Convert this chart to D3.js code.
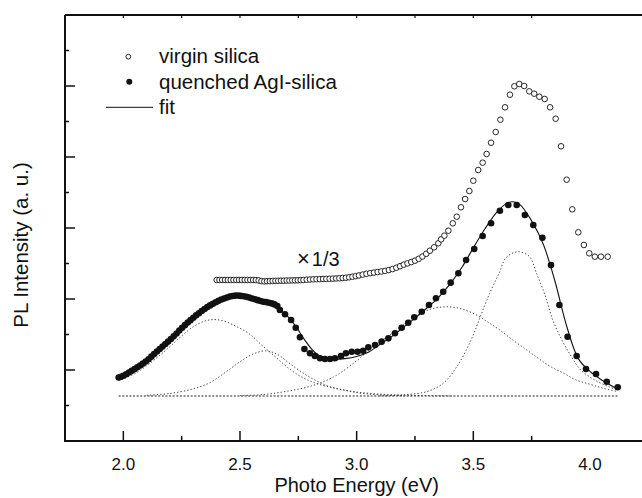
<!DOCTYPE html>
<html><head><meta charset="utf-8">
<script src="https://cdn.jsdelivr.net/npm/d3@7"></script>
<style>body{margin:0;background:#fff}svg{display:block}text{font-family:"Liberation Sans",Arial,sans-serif;fill:#111}</style>
</head><body>
<script>
// ---- data ----
const xTicksMajor = [2.0, 2.5, 3.0, 3.5, 4.0];
const xTickLabels = ["2.0", "2.5", "3.0", "3.5", "4.0"];
const legendLabels = ["virgin silica", "quenched AgI-silica", "fit"];
const scaleNote = ["\u00d7", "1/3"];

// virgin silica (open circles), shown x1/3
const virginX = [2.400,2.412,2.424,2.436,2.448,2.460,2.472,2.484,2.496,2.508,2.520,2.532,2.544,2.556,2.568,2.580,2.592,2.604,2.616,2.628,2.640,2.652,2.664,2.676,2.688,2.700,2.712,2.724,2.736,2.748,2.760,2.772,2.786,2.800,2.814,2.828,2.842,2.856,2.870,2.884,2.898,2.912,2.926,2.940,2.954,2.968,2.982,2.996,3.010,3.026,3.042,3.058,3.074,3.090,3.106,3.122,3.138,3.154,3.170,3.186,3.202,3.218,3.234,3.250,3.266,3.282,3.298,3.314,3.332,3.350,3.362,3.376,3.393,3.412,3.429,3.447,3.465,3.483,3.500,3.521,3.540,3.557,3.576,3.596,3.616,3.636,3.657,3.676,3.697,3.718,3.740,3.761,3.783,3.806,3.829,3.853,3.876,3.900,3.924,3.950,3.974,3.997,4.021,4.047,4.076];
const virginY = [2.268,2.268,2.268,2.268,2.268,2.268,2.268,2.268,2.268,2.268,2.268,2.268,2.268,2.268,2.266,2.262,2.252,2.248,2.250,2.252,2.254,2.256,2.256,2.258,2.258,2.260,2.260,2.262,2.262,2.264,2.266,2.268,2.272,2.275,2.277,2.279,2.280,2.282,2.283,2.285,2.287,2.289,2.292,2.296,2.300,2.306,2.314,2.322,2.332,2.344,2.355,2.364,2.372,2.380,2.388,2.396,2.408,2.422,2.440,2.462,2.484,2.502,2.520,2.540,2.566,2.598,2.636,2.680,2.728,2.785,2.840,2.892,2.962,3.066,3.159,3.292,3.408,3.521,3.666,3.817,3.920,4.042,4.201,4.352,4.525,4.700,4.877,4.996,5.028,5.000,4.925,4.892,4.849,4.817,4.700,4.539,4.151,3.680,3.263,2.939,2.761,2.644,2.596,2.596,2.596];

// quenched AgI-silica (filled circles)
const quenchedX = [1.980,1.990,2.000,2.012,2.024,2.036,2.048,2.060,2.072,2.084,2.096,2.108,2.120,2.132,2.144,2.156,2.168,2.180,2.192,2.204,2.216,2.228,2.240,2.252,2.264,2.276,2.288,2.300,2.312,2.324,2.336,2.348,2.360,2.372,2.384,2.396,2.408,2.420,2.432,2.444,2.456,2.468,2.480,2.492,2.504,2.516,2.528,2.540,2.552,2.564,2.576,2.588,2.600,2.612,2.624,2.636,2.648,2.660,2.671,2.693,2.719,2.739,2.757,2.776,2.800,2.821,2.843,2.864,2.886,2.907,2.933,2.954,2.979,3.004,3.028,3.050,3.079,3.107,3.136,3.164,3.193,3.221,3.247,3.279,3.310,3.340,3.371,3.403,3.436,3.469,3.504,3.540,3.576,3.614,3.650,3.686,3.721,3.757,3.796,3.833,3.869,3.904,3.943,3.983,4.026,4.072,4.119];
const quenchedY = [0.895,0.905,0.918,0.940,0.965,0.988,1.012,1.038,1.064,1.090,1.120,1.152,1.188,1.224,1.260,1.296,1.332,1.366,1.400,1.436,1.474,1.514,1.556,1.596,1.632,1.668,1.702,1.736,1.770,1.800,1.830,1.858,1.886,1.910,1.932,1.954,1.974,1.992,2.008,2.022,2.034,2.042,2.048,2.048,2.044,2.038,2.030,2.020,2.008,1.996,1.984,1.972,1.962,1.956,1.948,1.938,1.924,1.900,1.845,1.785,1.704,1.596,1.461,1.296,1.235,1.197,1.165,1.155,1.155,1.165,1.197,1.235,1.258,1.258,1.272,1.320,1.352,1.399,1.446,1.517,1.596,1.666,1.742,1.821,1.915,2.010,2.103,2.230,2.362,2.549,2.704,2.887,3.066,3.244,3.324,3.324,3.183,3.042,2.863,2.479,1.915,1.469,1.197,1.014,0.944,0.835,0.756];

// fit (solid line)
const fitX = [1.98,2.05,2.10,2.15,2.20,2.25,2.30,2.35,2.40,2.45,2.50,2.55,2.60,2.65,2.70,2.74,2.78,2.82,2.86,2.90,2.95,3.00,3.05,3.10,3.15,3.20,3.25,3.30,3.35,3.40,3.45,3.50,3.55,3.60,3.64,3.67,3.70,3.75,3.80,3.85,3.90,3.95,4.00,4.05,4.12];
const fitY = [0.89,1.01,1.12,1.27,1.42,1.59,1.74,1.87,1.96,2.02,2.04,2.02,1.97,1.90,1.77,1.61,1.41,1.25,1.17,1.15,1.16,1.19,1.25,1.36,1.47,1.60,1.73,1.87,2.02,2.21,2.44,2.72,2.99,3.22,3.34,3.37,3.33,3.10,2.77,2.25,1.62,1.16,0.98,0.86,0.73];

// fitted components (dotted) and baseline
const baseX = [1.98, 4.12];
const baseY = [0.634, 0.634];
const comp1X = [1.98,2.05,2.10,2.15,2.20,2.25,2.30,2.35,2.39,2.43,2.48,2.54,2.59,2.65,2.71,2.76,2.82,2.91,3.00,3.10,3.20,3.30,3.40];
const comp1Y = [0.85,0.95,1.06,1.19,1.33,1.48,1.61,1.69,1.71,1.69,1.62,1.51,1.36,1.19,1.02,0.91,0.82,0.74,0.69,0.66,0.645,0.64,0.635];
const comp2X = [2.10,2.20,2.30,2.37,2.43,2.48,2.52,2.56,2.61,2.66,2.71,2.76,2.82,2.88,2.95,3.02,3.10,3.20];
const comp2Y = [0.645,0.67,0.735,0.82,0.95,1.07,1.16,1.23,1.27,1.22,1.10,0.98,0.86,0.77,0.715,0.672,0.65,0.638];
const comp3X = [2.50,2.60,2.70,2.80,2.90,3.00,3.07,3.14,3.20,3.26,3.32,3.39,3.45,3.51,3.56,3.61,3.67,3.73,3.78,3.83,3.89,3.94,4.00,4.06,4.12];
const comp3Y = [0.64,0.655,0.70,0.77,0.90,1.13,1.33,1.49,1.64,1.77,1.86,1.89,1.86,1.78,1.68,1.57,1.42,1.28,1.16,1.05,0.95,0.86,0.80,0.74,0.695];
const comp4X = [3.10,3.20,3.30,3.37,3.43,3.49,3.53,3.57,3.61,3.64,3.69,3.74,3.77,3.81,3.84,3.88,3.92,3.96,4.02,4.08,4.12];
const comp4Y = [0.636,0.65,0.695,0.81,1.05,1.42,1.75,2.08,2.36,2.58,2.665,2.60,2.37,2.03,1.71,1.42,1.19,1.00,0.86,0.765,0.72];

// ---- drawing ----
const W = 642, H = 498;
const svg = d3.select("body").append("svg").attr("width", W).attr("height", H);
const x = d3.scaleLinear().domain([1.75, 4.25]).range([65, 648.3]);
const y = d3.scaleLinear().domain([0, 6]).range([441, 15]);
const zip = (a, b) => a.map((v, i) => [v, b[i]]);

const line = d3.line().x(d => x(d[0])).y(d => y(d[1])).curve(d3.curveCatmullRom.alpha(0.5));

// components
[[comp1X, comp1Y], [comp2X, comp2Y], [comp3X, comp3Y], [comp4X, comp4Y]].forEach(([cx, cy]) => {
  svg.append("path").attr("d", line(zip(cx, cy))).attr("fill", "none")
    .attr("stroke", "#444").attr("stroke-width", 1).attr("stroke-dasharray", "1.3 2.1");
});
svg.append("path").attr("d", d3.line().x(d => x(d[0])).y(d => y(d[1]))(zip(baseX, baseY)))
  .attr("fill", "none").attr("stroke", "#222").attr("stroke-width", 1.2).attr("stroke-dasharray", "2 1.6");

// fit
svg.append("path").attr("d", line(zip(fitX, fitY))).attr("fill", "none")
  .attr("stroke", "#111").attr("stroke-width", 1.1);

// quenched filled circles
svg.append("g").selectAll("circle").data(zip(quenchedX, quenchedY)).join("circle")
  .attr("cx", d => x(d[0])).attr("cy", d => y(d[1])).attr("r", 3.3).attr("fill", "#111");

// virgin open circles
svg.append("g").selectAll("circle").data(zip(virginX, virginY)).join("circle")
  .attr("cx", d => x(d[0])).attr("cy", d => y(d[1])).attr("r", 2.8)
  .attr("fill", "#fff").attr("stroke", "#111").attr("stroke-width", 0.9);

// frame & ticks
const ax = svg.append("g").attr("stroke", "#111").attr("fill", "none");
ax.append("path").attr("d", `M${x(1.75)},${y(6)}H${x(4.25)}M${x(1.75)},${y(6)}V${y(0)}H${x(4.25)}`).attr("stroke-width", 2);
const xTicksAll = d3.range(8).map(i => 2.0 + i * 0.25).filter(v => v < 4.25);
xTicksAll.forEach(v => {
  const major = xTicksMajor.includes(v);
  ax.append("line").attr("x1", x(v)).attr("x2", x(v)).attr("y1", y(0)).attr("y2", y(0) - (major ? 10 : 5)).attr("stroke-width", 1.5);
  ax.append("line").attr("x1", x(v)).attr("x2", x(v)).attr("y1", y(6)).attr("y2", y(6) + 3).attr("stroke-width", 1.2);
});
d3.range(1, 12).map(i => i * 0.5).forEach(v => {
  const major = Number.isInteger(v);
  ax.append("line").attr("x1", x(1.75)).attr("x2", x(1.75) + (major ? 10 : 4)).attr("y1", y(v)).attr("y2", y(v)).attr("stroke-width", 1.5);
});

// tick labels
svg.append("g").selectAll("text").data(xTicksMajor).join("text")
  .attr("x", d => x(d)).attr("y", 470).attr("text-anchor", "middle").attr("font-size", 17)
  .text((d, i) => xTickLabels[i]);

// axis titles
svg.append("text").attr("x", x(3.0)).attr("y", 492).attr("text-anchor", "middle").attr("font-size", 20).text("Photo Energy (eV)");
svg.append("text").attr("transform", "translate(28,245) rotate(-90)").attr("text-anchor", "middle").attr("font-size", 20.5).text("PL Intensity (a. u.)");

// x1/3 note
const note = svg.append("text").attr("x", 297).attr("y", 266).attr("font-size", 20);
note.append("tspan").attr("font-size", 22).text(scaleNote[0]);
note.append("tspan").attr("dx", 2).text(scaleNote[1]);

// legend
const lg = svg.append("g");
lg.append("circle").attr("cx", 128.3).attr("cy", 56.7).attr("r", 2.4).attr("fill", "#fff").attr("stroke", "#111").attr("stroke-width", 0.9);
lg.append("circle").attr("cx", 129.3).attr("cy", 81.7).attr("r", 3).attr("fill", "#111");
lg.append("line").attr("x1", 106).attr("x2", 153).attr("y1", 107.3).attr("y2", 107.3).attr("stroke", "#111").attr("stroke-width", 1);
legendLabels.forEach((t, i) => {
  lg.append("text").attr("x", 159).attr("y", 63.3 + i * 25.5).attr("font-size", 20.5).text(t);
});
</script>
</body></html>
